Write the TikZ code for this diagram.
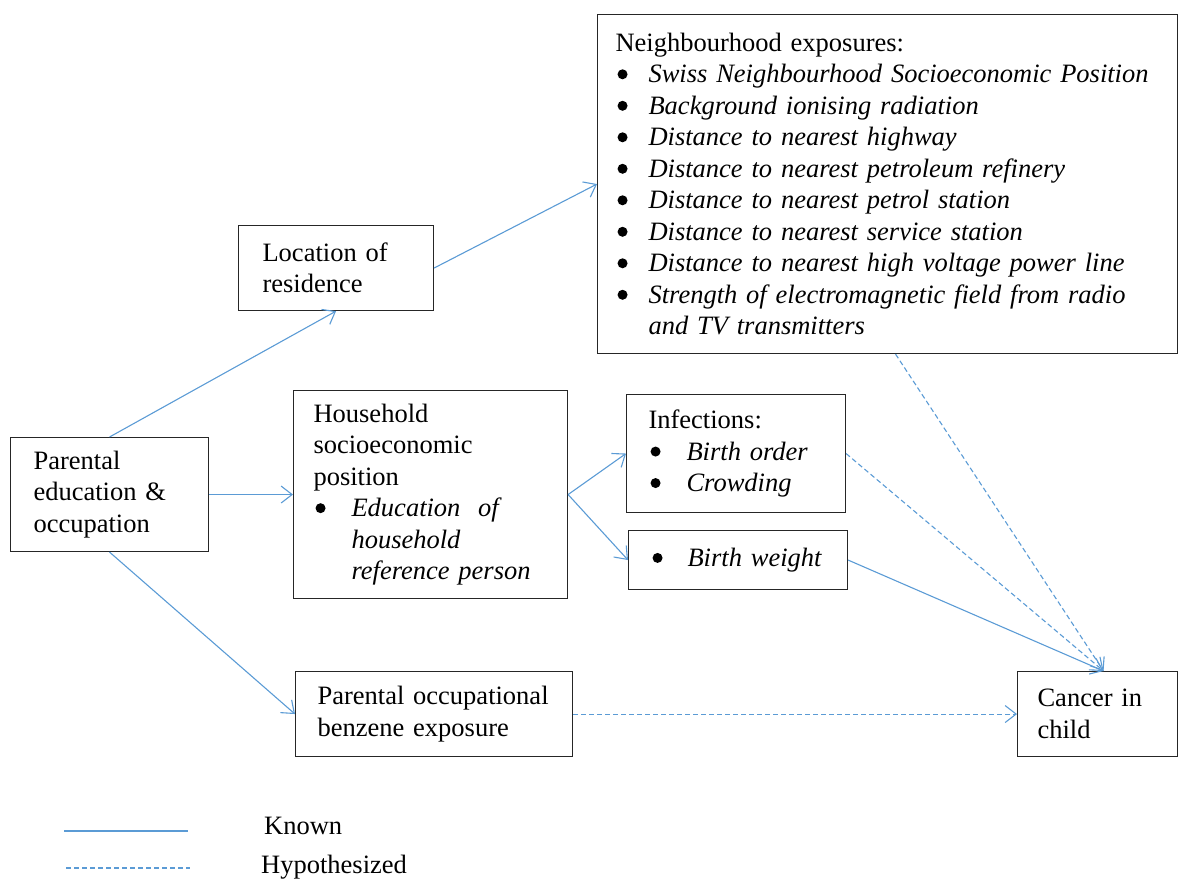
\documentclass[tikz,border=0pt]{standalone}
\usepackage{fontspec}
\setmainfont{Liberation Serif}
\usetikzlibrary{arrows.meta}
\definecolor{ln}{HTML}{5B9BD5}
\newcommand\blt{\tikz[baseline=0pt]\fill[black] (0pt,8.5pt) circle[radius=5pt];}
\newcommand\bitem[2]{\makebox[#1][l]{\hspace{2pt}\blt}\textit{#2}}
\newcommand\bit[1]{\bitem{33pt}{#1}}
\newcommand\cont[1]{\hspace*{33pt}\textit{#1}}
\begin{document}
\begin{tikzpicture}[x=1pt,y=-1pt,
  bx/.style={draw=black!85, line width=1.1pt, anchor=north west, align=left,
    inner ysep=0pt, inner xsep=20pt, font=\fontsize{26.5}{31.5}\selectfont},
  known/.style={draw=ln, line width=1.1pt, -{Straight Barb[length=11pt,width=17pt,line width=1.1pt]}},
  hyp/.style={known, dash pattern=on 5pt off 3pt},
  lab/.style={anchor=base west, inner sep=0pt, font=\fontsize{26.5}{31.5}\selectfont}]
\useasboundingbox (0,0) rectangle (1179,880);
\node[bx, minimum width=580pt, minimum height=339pt, text width=544pt, inner xsep=18pt] (nb) at (597,14) {Neighbourhood exposures:\\
\bit{Swiss Neighbourhood Socioeconomic Position}\\
\bit{Background ionising radiation}\\
\bit{Distance to nearest highway}\\
\bit{Distance to nearest petroleum refinery}\\
\bit{Distance to nearest petrol station}\\
\bit{Distance to nearest service station}\\
\bit{Distance to nearest high voltage power line}\\
\bit{Strength of electromagnetic field from radio}\\
\cont{and TV transmitters}};
\node[bx, minimum width=195pt, minimum height=85pt, text width=147pt, inner xsep=24pt] (loc) at (238,225) {Location of\\ residence};
\node[bx, minimum width=198pt, minimum height=114pt, text width=152pt, inner xsep=23pt] (par) at (10,437) {Parental\\ education \&\\ occupation};
\node[bx, minimum width=274pt, minimum height=208pt, text width=234pt] (hh) at (293,390) {Household\\ socioeconomic\\ position\\
\bitem{38pt}{Education\ \ of}\\
\hspace*{38pt}\textit{household}\\
\hspace*{38pt}\textit{reference person}};
\node[bx, minimum width=219pt, minimum height=118pt, text width=175pt, inner xsep=22pt] (inf) at (626,394) {Infections:\\
\bitem{38pt}{Birth order}\\
\bitem{38pt}{Crowding}};
\node[bx, minimum width=219pt, minimum height=59pt, text width=175pt, inner xsep=22pt] (bw) at (628,530) {\bitem{37pt}{Birth weight}};
\node[bx, minimum width=277pt, minimum height=85pt, text width=233pt, inner xsep=22pt] (bz) at (295,671) {Parental occupational\\ benzene exposure};
\node[bx, minimum width=160pt, minimum height=85pt, text width=120pt] (ca) at (1017,671) {Cancer in\\ child};
\draw[known] (par.north) -- (loc.south);
\draw[known] (loc.east) -- (nb.west);
\draw[known] (par.east) -- (hh.west);
\draw[known] (hh.east) -- (inf.west);
\draw[known] (hh.east) -- (bw.west);
\draw[known] (par.south) -- (bz.west);
\draw[hyp] (bz.east) -- (ca.west);
\coordinate (cat) at ([xshift=6pt]ca.north);
\coordinate (nbs) at ([xshift=8pt]nb.south);
\draw[hyp] (nbs) -- (cat);
\draw[hyp] (inf.east) -- (cat);
\draw[known] (bw.east) -- (cat);
\coordinate (k1) at (64,831); \coordinate (k2) at (188,831);
\coordinate (h1) at (66,868); \coordinate (h2) at (190,868);
\draw[draw=ln, line width=1.1pt] (k1) -- (k2);
\draw[draw=ln, line width=1.1pt, dash pattern=on 5pt off 3pt] (h1) -- (h2);
\node[lab] (kn) at (264,834) {Known};
\node[lab] (hy) at (261,873) {Hypothesized};
\end{tikzpicture}
\end{document}
